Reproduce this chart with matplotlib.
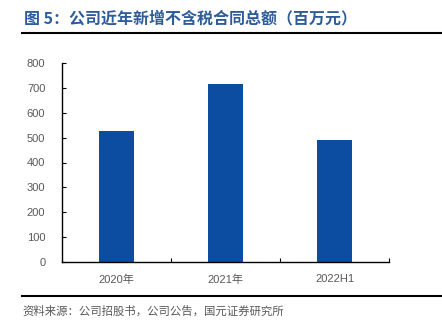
import matplotlib
matplotlib.use('Agg')
import matplotlib.pyplot as plt
from matplotlib import lines as mlines

plt.rcParams['font.family'] = ['Liberation Sans', 'Noto Sans CJK SC', 'DejaVu Sans']

categories = ['2020年', '2021年', '2022H1']
values = [526, 716, 489]
y_ticks = [0, 100, 200, 300, 400, 500, 600, 700, 800]

TITLE = '图 5：公司近年新增不含税合同总额（百万元）'
SOURCE = '资料来源：公司招股书，公司公告，国元证券研究所'

BAR_COLOR = '#0C4DA2'
TITLE_COLOR = '#2E5C9A'
TEXT_COLOR = '#595959'
CJK = ['Noto Sans CJK SC', 'DejaVu Sans']

W, H = 442, 326
fig = plt.figure(figsize=(W / 100, H / 100), dpi=100)

# axes box in pixel coords: x 62..389, y 63..262 (from top)
left, right, top, bottom = 62, 389, 63, 262
ax = fig.add_axes([left / W, 1 - bottom / H, (right - left) / W, (bottom - top) / H])

xs = range(len(categories))
ax.bar(xs, values, width=0.33, color=BAR_COLOR)

ax.set_xlim(-0.5, len(categories) - 0.5)
ax.set_ylim(0, 800)
ax.set_yticks(y_ticks)
ax.set_xticks(list(xs))
ax.set_xticklabels(categories)
ax.set_xticks([i + 0.5 for i in range(len(categories))], minor=True)

for side in ('top', 'right'):
    ax.spines[side].set_visible(False)
for side in ('left', 'bottom'):
    ax.spines[side].set_color('#000000')
    ax.spines[side].set_linewidth(1.0)

ax.tick_params(axis='y', direction='in', length=3, width=0.8, labelsize=8,
               labelcolor=TEXT_COLOR, pad=12)
ax.tick_params(axis='x', which='major', length=0, labelsize=8,
               labelcolor=TEXT_COLOR, pad=9)
ax.tick_params(axis='x', which='minor', direction='in', length=3, width=0.8)

# title, rules and source note
fig.text(24 / W, 1 - 18 / H, TITLE, color=TITLE_COLOR, fontsize=11.5,
         fontweight='bold', va='center', ha='left', family=CJK)
fig.add_artist(mlines.Line2D([22 / W, 1.0], [1 - 33 / H] * 2, color='#000000',
                             linewidth=1.5, transform=fig.transFigure))
fig.add_artist(mlines.Line2D([22 / W, 1.0], [1 - 296 / H] * 2, color='#000000',
                             linewidth=1.5, transform=fig.transFigure))
fig.text(22 / W, 1 - 311 / H, SOURCE, color=TEXT_COLOR, fontsize=8.2,
         va='center', ha='left', family=CJK)

fig.savefig('out.png', dpi=100)
plt.close(fig)
